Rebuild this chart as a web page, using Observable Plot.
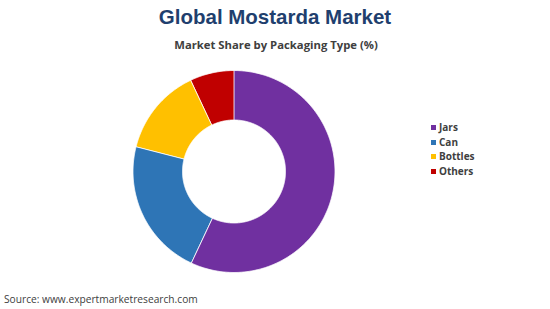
<!DOCTYPE html>
<html><head><meta charset="utf-8">
<script src="https://cdn.jsdelivr.net/npm/d3@7"></script>
<script src="https://cdn.jsdelivr.net/npm/@observablehq/plot@0.6"></script>
<style>
body{margin:0;background:#fff;}
#wrap{position:relative;width:550px;height:309px;overflow:hidden;font-family:"Liberation Sans",Arial,sans-serif;}
#title{position:absolute;left:0;width:550px;top:5px;text-align:center;font-weight:bold;font-size:20.5px;color:#1F3F6E;}
#sub{position:absolute;left:0;width:552px;top:37px;text-align:center;font-weight:bold;font-size:11.3px;color:#404040;font-family:"Open Sans",sans-serif;}
#legend{position:absolute;left:431px;top:120px;font-family:"Open Sans",sans-serif;font-weight:bold;font-size:10px;color:#404040;}
#legend .row{height:14.7px;line-height:14.7px;white-space:nowrap;}
#legend .sw{display:inline-block;width:5px;height:5px;margin-right:3px;vertical-align:middle;position:relative;top:-1px;}
#src{position:absolute;left:4px;top:292px;font-size:10.2px;color:#404040;font-family:"Open Sans",sans-serif;}
#chart{position:absolute;left:0;top:0;}
</style></head>
<body>
<div id="wrap">
<div id="chart"></div>
<div id="title">Global Mostarda Market</div>
<div id="sub">Market Share by Packaging Type (%)</div>
<div id="legend"></div>
<div id="src">Source: www.expertmarketresearch.com</div>
</div>
<script>
const categories = ["Jars", "Can", "Bottles", "Others"];
const shares = [57, 22, 14, 7];
const colors = ["#7030A0", "#2E75B6", "#FFC000", "#C00000"];

const innerRatio = 0.51;
const pie = d3.pie().sort(null).value(d => d.value);
const arcs = pie(categories.map((name, i) => ({name, value: shares[i]})));
const points = [];
for (const a of arcs) {
  const n = Math.max(4, Math.ceil((a.endAngle - a.startAngle) / 0.01));
  for (let k = 0; k <= n; k++) {
    const t = a.startAngle + (a.endAngle - a.startAngle) * k / n;
    points.push({name: a.data.name, x: Math.sin(t), y: Math.cos(t)});
  }
  for (let k = n; k >= 0; k--) {
    const t = a.startAngle + (a.endAngle - a.startAngle) * k / n;
    points.push({name: a.data.name, x: innerRatio * Math.sin(t), y: innerRatio * Math.cos(t)});
  }
}

const chart = Plot.plot({
  width: 550,
  height: 309,
  margin: 0,
  x: {domain: [-1, 1], range: [132.5, 334.5], axis: null},
  y: {domain: [-1, 1], range: [272, 70], axis: null},
  color: {domain: categories, range: colors},
  marks: [
    Plot.line(points, {x: "x", y: "y", z: "name", fill: "name", stroke: "white", strokeWidth: 0.8, curve: "linear-closed"})
  ]
});
document.getElementById("chart").appendChild(chart);

const leg = document.getElementById("legend");
categories.forEach((c, i) => {
  const row = document.createElement("div");
  row.className = "row";
  const sw = document.createElement("span");
  sw.className = "sw";
  sw.style.background = colors[i];
  row.appendChild(sw);
  row.appendChild(document.createTextNode(c));
  leg.appendChild(row);
});
</script>
</body></html>
